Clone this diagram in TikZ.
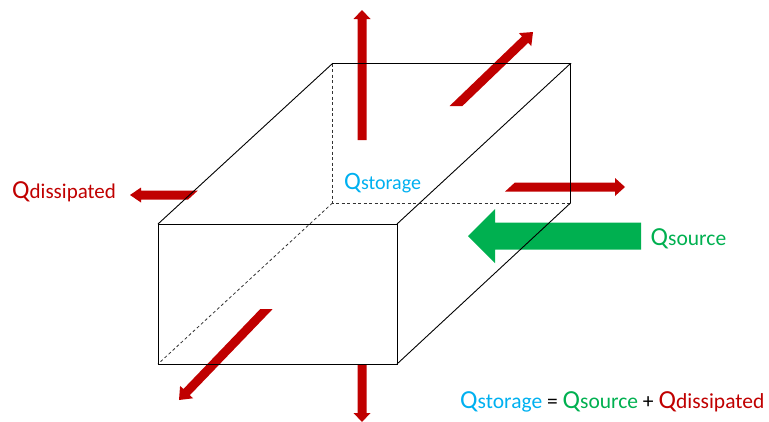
\documentclass[tikz,border=0pt]{standalone}
\usepackage{fontspec}
\setmainfont{Carlito}
\definecolor{qred}{HTML}{C00000}
\definecolor{qgreen}{HTML}{00B050}
\definecolor{qblue}{HTML}{00B0F0}
\newcommand{\qlab}[3]{{\fontsize{#1}{#1}\selectfont Q}{\fontsize{#2}{#2}\selectfont #3}}
\begin{document}
\begin{tikzpicture}[x=1pt,y=-1pt,
  edge/.style={line width=0.9pt,black},
  hidden/.style={line width=0.8pt,black!80,dash pattern=on 3pt off 2.5pt},
  redarrow/.style={fill=qred},
  greenarrow/.style={fill=qgreen},
  lab/.style={inner sep=0pt,anchor=base west}]
\useasboundingbox (0,0) rectangle (769,421);
% box corners
\coordinate (A) at (158,224);  % front top-left
\coordinate (B) at (397,224);  % front top-right
\coordinate (C) at (397,364);  % front bottom-right
\coordinate (D) at (158,364);  % front bottom-left
\coordinate (E) at (332.5,63.5);  % back top-left
\coordinate (F) at (570.5,63.5);  % back top-right
\coordinate (G) at (570.5,203);  % back bottom-right
\coordinate (H) at (332.5,203);  % back bottom-left
% arrows (drawn below the box edges)
\fill[redarrow] (357.5,140) -- (357.5,19) -- (353.5,19) -- (362,10) -- (370.5,19) -- (366.5,19) -- (366.5,140) -- cycle;
\fill[redarrow] (357.5,364) -- (357.5,413) -- (353.5,413) -- (362,422) -- (370.5,413) -- (366.5,413) -- (366.5,364) -- cycle;
\fill[redarrow] (449.6,106) -- (522.0,36.4) -- (518.9,33.1) -- (533,32) -- (531.3,46.1) -- (528.2,42.8) -- (462.4,106) -- cycle;
\fill[redarrow] (260.3,309) -- (183.4,389.0) -- (180.1,385.9) -- (179,400) -- (193.1,398.3) -- (189.8,395.2) -- (272.7,309) -- cycle;
\fill[redarrow] (197.9,190.5) -- (141,190.5) -- (141,187.5) -- (130,195) -- (141,202.5) -- (141,199.5) -- (188.1,199.5) -- cycle;
\fill[redarrow] (514.9,182.5) -- (615,182.5) -- (615,178) -- (625,187) -- (615,196) -- (615,191.5) -- (505.1,191.5) -- cycle;
\fill[greenarrow] (641,222.5) -- (495,222.5) -- (495,209) -- (468,236) -- (495,263) -- (495,249.5) -- (641,249.5) -- cycle;
% box edges
\draw[hidden] (E) -- (H) -- (G);
\draw[hidden] (H) -- (D);
\draw[edge] (A) rectangle (C);
\draw[edge] (A) -- (E) -- (F) -- (B);
\draw[edge] (F) -- (G) -- (C);
% labels
\node[lab,text=qred] (qdis) at (12,198) {\qlab{26}{21}{dissipated}};
\node[lab,text=qblue] (qsto) at (344,189) {\qlab{25}{20}{storage}};
\node[lab,text=qgreen] (qsrc) at (650.5,245) {\qlab{26}{21.5}{source}};
\node[lab] (eq) at (460,408) {\textcolor{qblue}{\qlab{26}{21.5}{storage}}{\fontsize{21.5}{21.5}\selectfont\ =\ }\textcolor{qgreen}{\qlab{26}{21.5}{source}}{\fontsize{21.5}{21.5}\selectfont\ +\ }\textcolor{qred}{\qlab{26}{21.5}{dissipated}}};
\end{tikzpicture}
\end{document}
